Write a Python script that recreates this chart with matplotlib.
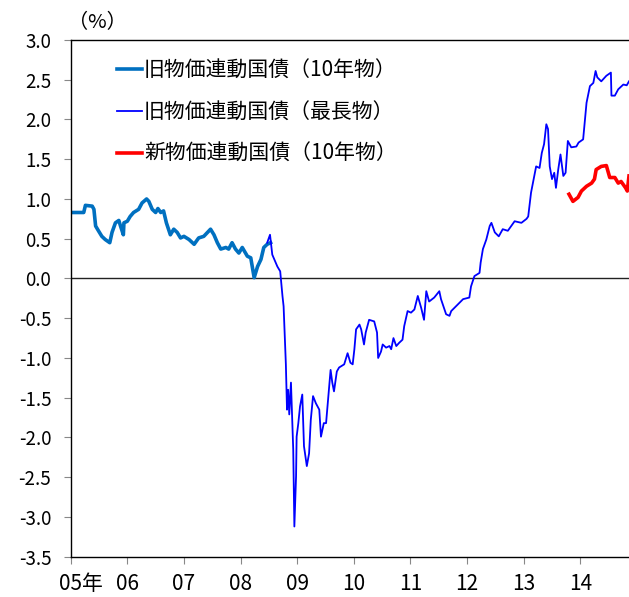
import matplotlib
matplotlib.use("Agg")
import matplotlib.pyplot as plt
import matplotlib.transforms as mtransforms
import numpy as np

plt.rcParams['font.family'] = ['Noto Sans CJK JP', 'DejaVu Sans']
plt.rcParams['axes.unicode_minus'] = False

# old index-linked JGB, 10-year (decimal year, %)
old10_t = [2005.00, 2005.23, 2005.26, 2005.38, 2005.41, 2005.44, 2005.49, 2005.55, 2005.61, 2005.69,
           2005.73, 2005.79, 2005.85, 2005.88, 2005.93, 2005.94, 2006.00, 2006.05, 2006.11, 2006.20,
           2006.26, 2006.34, 2006.38, 2006.44, 2006.50, 2006.54, 2006.59, 2006.64, 2006.69, 2006.76,
           2006.82, 2006.88, 2006.94, 2007.00, 2007.09, 2007.18, 2007.26, 2007.35, 2007.47, 2007.53,
           2007.59, 2007.65, 2007.74, 2007.79, 2007.85, 2007.91, 2007.97, 2008.03, 2008.12, 2008.18,
           2008.24, 2008.30, 2008.36, 2008.41, 2008.47, 2008.53]
old10_v = [0.83, 0.83, 0.92, 0.91, 0.87, 0.66, 0.60, 0.53, 0.49, 0.45,
           0.58, 0.70, 0.73, 0.66, 0.55, 0.70, 0.72, 0.78, 0.83, 0.87,
           0.95, 1.00, 0.97, 0.87, 0.83, 0.88, 0.83, 0.85, 0.70, 0.55,
           0.62, 0.58, 0.51, 0.53, 0.49, 0.43, 0.51, 0.53, 0.62, 0.55,
           0.45, 0.37, 0.39, 0.37, 0.45, 0.37, 0.32, 0.39, 0.28, 0.26,
           0.01, 0.15, 0.24, 0.39, 0.43, 0.45]

# old index-linked JGB, longest maturity
longest_t = [2008.47, 2008.52, 2008.56, 2008.65, 2008.70, 2008.71, 2008.74, 2008.76, 2008.78, 2008.80,
             2008.82, 2008.84, 2008.86, 2008.89, 2008.90, 2008.93, 2008.95, 2008.98, 2008.99, 2009.02,
             2009.05, 2009.09, 2009.12, 2009.17, 2009.21, 2009.24, 2009.28, 2009.33, 2009.39, 2009.42,
             2009.47, 2009.51, 2009.55, 2009.59, 2009.62, 2009.65, 2009.70, 2009.74, 2009.83, 2009.89,
             2009.94, 2009.98, 2010.01, 2010.04, 2010.10, 2010.13, 2010.18, 2010.21, 2010.27, 2010.36,
             2010.41, 2010.43, 2010.48, 2010.51, 2010.57, 2010.63, 2010.66, 2010.70, 2010.75, 2010.80,
             2010.86, 2010.89, 2010.95, 2011.01, 2011.07, 2011.13, 2011.19, 2011.24, 2011.28, 2011.33,
             2011.42, 2011.51, 2011.54, 2011.63, 2011.69, 2011.72, 2011.93, 2012.04, 2012.07, 2012.13,
             2012.22, 2012.24, 2012.28, 2012.34, 2012.40, 2012.43, 2012.49, 2012.56, 2012.63, 2012.72,
             2012.84, 2012.96, 2013.05, 2013.08, 2013.13, 2013.22, 2013.28, 2013.32, 2013.36, 2013.40,
             2013.43, 2013.46, 2013.50, 2013.54, 2013.57, 2013.61, 2013.65, 2013.70, 2013.74, 2013.78,
             2013.84, 2013.93, 2013.97, 2014.05, 2014.11, 2014.17, 2014.23, 2014.27, 2014.30, 2014.37,
             2014.46, 2014.54, 2014.55, 2014.61, 2014.67, 2014.76, 2014.82, 2014.86]
longest_v = [0.45, 0.55, 0.30, 0.15, 0.09, 0.01, -0.22, -0.35, -0.73, -1.08,
             -1.65, -1.40, -1.71, -1.31, -1.52, -2.15, -3.12, -2.49, -1.99, -1.82,
             -1.61, -1.46, -2.11, -2.36, -2.20, -1.78, -1.48, -1.57, -1.65, -1.99,
             -1.82, -1.82, -1.48, -1.15, -1.31, -1.42, -1.17, -1.12, -1.08, -0.94,
             -1.06, -1.08, -0.89, -0.64, -0.58, -0.64, -0.83, -0.68, -0.52, -0.54,
             -0.68, -1.00, -0.92, -0.83, -0.87, -0.85, -0.89, -0.75, -0.85, -0.81,
             -0.77, -0.60, -0.41, -0.43, -0.39, -0.22, -0.37, -0.52, -0.16, -0.29,
             -0.24, -0.16, -0.26, -0.45, -0.47, -0.41, -0.26, -0.24, -0.10, 0.03,
             0.07, 0.20, 0.37, 0.49, 0.66, 0.70, 0.58, 0.53, 0.62, 0.60,
             0.72, 0.70, 0.75, 0.78, 1.08, 1.41, 1.39, 1.58, 1.69, 1.94,
             1.88, 1.41, 1.25, 1.33, 1.14, 1.37, 1.56, 1.29, 1.33, 1.73,
             1.65, 1.66, 1.71, 1.75, 2.21, 2.42, 2.46, 2.61, 2.53, 2.48,
             2.55, 2.59, 2.30, 2.30, 2.38, 2.44, 2.43, 2.48]

# new index-linked JGB, 10-year
new10_t = [2013.80, 2013.87, 2013.96, 2014.02, 2014.11, 2014.20, 2014.25, 2014.28, 2014.37, 2014.46,
           2014.52, 2014.61, 2014.67, 2014.72, 2014.80, 2014.83, 2014.86]
new10_v = [1.06, 0.97, 1.02, 1.10, 1.16, 1.20, 1.25, 1.37, 1.41, 1.42,
           1.27, 1.27, 1.20, 1.22, 1.14, 1.10, 1.29]

years = list(range(2005, 2015))
year_labels = ['05年', '06', '07', '08', '09', '10', '11', '12', '13', '14']
labels = ['旧物価連動国債（10年物）', '旧物価連動国債（最長物）', '新物価連動国債（10年物）']

fig = plt.figure(figsize=(6.29, 5.97), dpi=100)
ax = fig.add_axes([0.1124, 0.0675, 0.8876, 0.8655])

ax.plot(old10_t, old10_v, color='#0070C0', lw=2.6, label=labels[0])
ax.plot(longest_t, longest_v, color='#0000FF', lw=1.3, label=labels[1])
ax.plot(new10_t, new10_v, color='#FF0000', lw=2.6, label=labels[2])
ax.axhline(0, color='#222222', lw=1, zorder=0)

ax.set_xlim(2005, 2014.86)
ax.set_ylim(-3.5, 3.0)
ax.set_yticks(np.arange(-3.5, 3.01, 0.5))
ax.set_yticklabels(['%.1f' % v for v in np.arange(-3.5, 3.01, 0.5)], fontsize=13.5)
ax.set_xticks(years)
ax.set_xticklabels(year_labels, fontsize=15)
ax.tick_params(axis='y', direction='out', length=5, color='#888888', pad=9)
ax.tick_params(axis='x', direction='out', length=5, color='#888888', pad=7)

# "05年": keep "05" centred on its tick
first = ax.get_xticklabels()[0]
first.set_horizontalalignment('left')
first.set_transform(first.get_transform() + mtransforms.ScaledTranslation(-0.115, 0, fig.dpi_scale_trans))

ax.spines['right'].set_visible(False)
for s in ['left', 'bottom', 'top']:
    ax.spines[s].set_color('black')
    ax.spines[s].set_linewidth(1)

fig.text(0.155, 0.962, '（%）', fontsize=14.5, ha='center', va='center')

leg = ax.legend(loc='upper left', bbox_to_anchor=(0.083, 0.962), frameon=False, fontsize=15,
                handlelength=1.2, handletextpad=0.1, labelspacing=0.95, borderpad=0, borderaxespad=0)

fig.savefig('out.png', dpi=100)
